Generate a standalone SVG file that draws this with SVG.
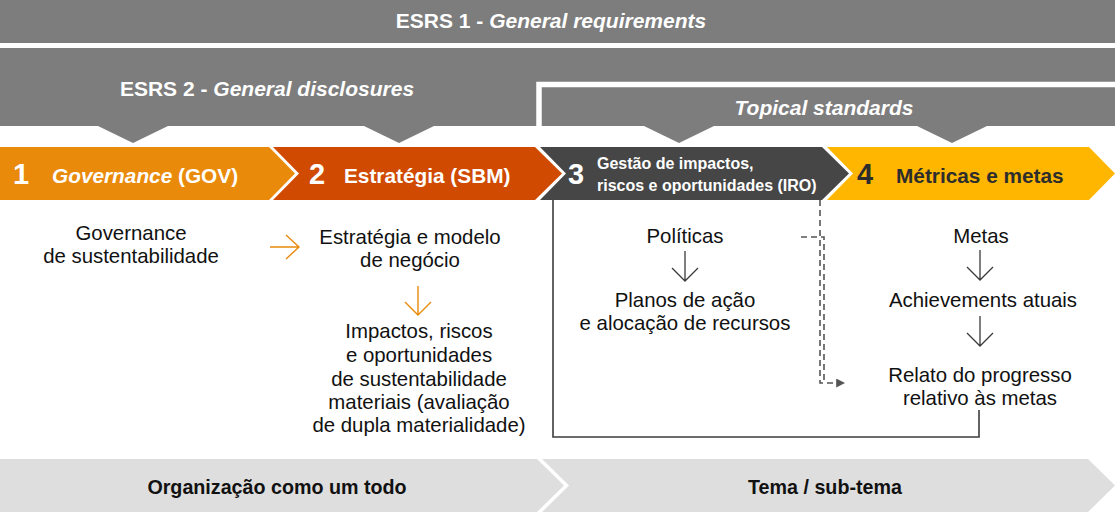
<svg xmlns="http://www.w3.org/2000/svg" width="1115" height="513" viewBox="0 0 1115 513">
  <defs>
    <style>
      .hdr { font-family: "Liberation Sans", Arial, sans-serif; font-weight: bold; font-size: 21px; fill: #ffffff; }
      .it { font-style: italic; }
      .num { font-family: "Liberation Sans", Arial, sans-serif; font-weight: bold; font-size: 29px; }
      .lbl { font-family: "Liberation Sans", Arial, sans-serif; font-weight: bold; font-size: 20.8px; }
      .lbl-s { font-family: "Liberation Sans", Arial, sans-serif; font-weight: bold; font-size: 16px; fill: #ffffff; }
      .body { font-family: "Liberation Sans", Arial, sans-serif; font-size: 20.4px; fill: #111111; text-anchor: middle; }
      .foot { font-family: "Liberation Sans", Arial, sans-serif; font-weight: bold; font-size: 19.7px; fill: #111111; text-anchor: middle; }
      .oarr { fill: none; stroke: #E98A0A; stroke-width: 1.4; }
      .garr { fill: none; stroke: #3a3a3a; stroke-width: 1.3; }
      .solid { fill: none; stroke: #3c3c3c; stroke-width: 1.6; }
      .dash { fill: none; stroke: #555555; stroke-width: 1.6; stroke-dasharray: 6 4; }
    </style>
    <marker id="ah" viewBox="0 0 10 10" refX="2" refY="5" markerWidth="9" markerHeight="9" markerUnits="userSpaceOnUse" orient="auto">
      <path d="M0,0 L10,5 L0,10 Z" fill="#555555"/>
    </marker>
  </defs>

  <rect width="1115" height="513" fill="#ffffff"/>

  <g id="esrs1">
    <rect x="0" y="0" width="1115" height="43" fill="#7d7d7d"/>
    <text class="hdr" x="551" y="28" text-anchor="middle">ESRS 1 - <tspan class="it">General requirements</tspan></text>
  </g>

  <g id="esrs2">
    <path d="M0,48 H1115 V126 H987 L952,143 L917,126 H714 L679,143 L644,126 H434 L399,143 L364,126 H168 L133,143 L98,126 H0 Z" fill="#7d7d7d"/>
    <text class="hdr" x="267" y="96" text-anchor="middle">ESRS 2 - <tspan class="it">General disclosures</tspan></text>
  </g>

  <g id="topical">
    <path d="M539,126 V84.5 H1115" fill="none" stroke="#ffffff" stroke-width="5.5"/>
    <text class="hdr it" x="824" y="115" text-anchor="middle">Topical standards</text>
  </g>

  <g id="gov">
    <path d="M0,147 H269 L295,173.5 L269,200 H0 Z" fill="#E98A0A"/>
    <text class="num" x="13" y="184" fill="#ffffff">1</text>
    <text class="lbl" x="52" y="183" fill="#ffffff"><tspan class="it">Governance</tspan> (GOV)</text>
  </g>

  <g id="sbm">
    <path d="M273,147 H535 L562,173.5 L535,200 H273 L299,173.5 Z" fill="#D04A02"/>
    <text class="num" x="309" y="184" fill="#ffffff">2</text>
    <text class="lbl" x="344" y="183" fill="#ffffff">Estratégia (SBM)</text>
  </g>

  <g id="iro">
    <path d="M540,147 H822 L849,173.5 L822,200 H540 L566,173.5 Z" fill="#464646"/>
    <text class="num" x="568" y="184" fill="#ffffff">3</text>
    <text class="lbl-s" x="597" y="169">Gestão de impactos,</text>
    <text class="lbl-s" x="597" y="191">riscos e oportunidades (IRO)</text>
  </g>

  <g id="mt">
    <path d="M827,147 H1089 L1115,173.5 L1089,200 H827 L853,173.5 Z" fill="#FFB600"/>
    <text class="num" x="857" y="184" fill="#2d2d2d">4</text>
    <text class="lbl" x="896" y="183" fill="#2d2d2d">Métricas e metas</text>
  </g>

  <g id="gov-body">
    <text class="body" x="131" y="240">Governance</text>
    <text class="body" x="131" y="263">de sustentabilidade</text>
  </g>

  <g id="sbm-body1">
    <text class="body" x="410" y="244">Estratégia e modelo</text>
    <text class="body" x="410" y="267">de negócio</text>
  </g>

  <g id="sbm-body2">
    <text class="body" x="419" y="338">Impactos, riscos</text>
    <text class="body" x="419" y="362">e oportunidades</text>
    <text class="body" x="419" y="386">de sustentabilidade</text>
    <text class="body" x="419" y="409">materiais (avaliação</text>
    <text class="body" x="419" y="432">de dupla materialidade)</text>
  </g>

  <g id="politicas">
    <text class="body" x="685" y="243">Políticas</text>
  </g>

  <g id="planos">
    <text class="body" x="685" y="307">Planos de ação</text>
    <text class="body" x="685" y="330">e alocação de recursos</text>
  </g>

  <g id="metas">
    <text class="body" x="981" y="243">Metas</text>
  </g>

  <g id="achievements">
    <text class="body" x="983" y="307">Achievements atuais</text>
  </g>

  <g id="relato">
    <text class="body" x="980" y="382">Relato do progresso</text>
    <text class="body" x="980" y="405">relativo às metas</text>
  </g>

  <g id="org">
    <path d="M0,459 H537 L564,485.5 L537,512 H0 Z" fill="#DEDEDE"/>
    <text class="foot" x="277" y="494">Organização como um todo</text>
  </g>

  <g id="tema">
    <path d="M542,459 H1088 L1115,485.5 L1088,512 H542 L569,485.5 Z" fill="#DEDEDE"/>
    <text class="foot" x="825" y="494">Tema / sub-tema</text>
  </g>

  <g id="connectors">
    <path class="oarr" d="M270,247 H299 M286,235 L299,247 L286,259"/>
    <path class="oarr" d="M418,286 V315 M405,302 L418,315 L431,302"/>
    <path class="garr" d="M685,251 V281 M672,268 L685,281 L698,268"/>
    <path class="garr" d="M980,250 V280 M967,267 L980,280 L993,267"/>
    <path class="garr" d="M980,316 V346 M967,333 L980,346 L993,333"/>
    <path class="solid" d="M553,200 V437 H979 V410"/>
    <path class="dash" d="M801,237 H824 V383"/>
    <path class="dash" d="M820,200 V383 H838" marker-end="url(#ah)"/>
  </g>
</svg>
